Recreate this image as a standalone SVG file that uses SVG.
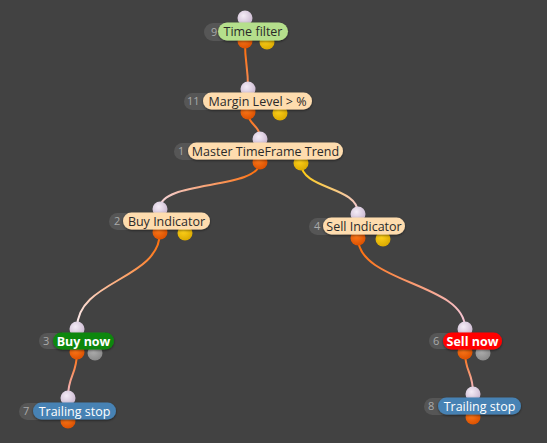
<svg xmlns="http://www.w3.org/2000/svg" width="547" height="443" viewBox="0 0 547 443">
<style>
.num{font-family:"Open Sans","Liberation Sans",sans-serif;font-size:11px;fill:#aaaaaa;}
.lbl{font-family:"Open Sans","Liberation Sans",sans-serif;font-size:12.5px;fill:#2a2a2a;text-anchor:middle;}
.lblw{font-family:"Open Sans","Liberation Sans",sans-serif;font-size:12.5px;fill:#ffffff;text-anchor:middle;}
.lblb{font-family:"Open Sans","Liberation Sans",sans-serif;font-size:12.5px;font-weight:bold;fill:#ffffff;text-anchor:middle;}
.base{fill:#565656;}
.peach{fill:#fedcae;}
.wire{fill:none;stroke-width:2;}
</style>
<defs>
<filter id="sh" x="-20%" y="-50%" width="140%" height="200%"><feDropShadow dx="0" dy="1" stdDeviation="1.2" flood-color="#000" flood-opacity="0.5"/></filter>
<radialGradient id="pin" cx="0.4" cy="0.35" r="0.7"><stop offset="0" stop-color="#f4ecf6"/><stop offset="1" stop-color="#c9b6cf"/></radialGradient>
<radialGradient id="por" cx="0.4" cy="0.35" r="0.7"><stop offset="0" stop-color="#ff7a1a"/><stop offset="1" stop-color="#d94f00"/></radialGradient>
<radialGradient id="pye" cx="0.4" cy="0.35" r="0.7"><stop offset="0" stop-color="#ffd21a"/><stop offset="1" stop-color="#d9a800"/></radialGradient>
<radialGradient id="pgr" cx="0.4" cy="0.35" r="0.7"><stop offset="0" stop-color="#b0b0b0"/><stop offset="1" stop-color="#888888"/></radialGradient>
<linearGradient id="g1" gradientUnits="userSpaceOnUse" x1="260" y1="162" x2="160" y2="208"><stop offset="0" stop-color="#ff6a00"/><stop offset="1" stop-color="#f3d6de"/></linearGradient>
<linearGradient id="g2" gradientUnits="userSpaceOnUse" x1="301" y1="163" x2="358" y2="213"><stop offset="0" stop-color="#ffcc00"/><stop offset="1" stop-color="#f3c8d8"/></linearGradient>
<linearGradient id="g3" gradientUnits="userSpaceOnUse" x1="160" y1="232" x2="77" y2="328"><stop offset="0" stop-color="#ff6a00"/><stop offset="1" stop-color="#fbeef4"/></linearGradient>
<linearGradient id="g4" gradientUnits="userSpaceOnUse" x1="358" y1="238" x2="465" y2="328"><stop offset="0" stop-color="#ff6a00"/><stop offset="1" stop-color="#f5c8dc"/></linearGradient>
<linearGradient id="g5" gradientUnits="userSpaceOnUse" x1="77" y1="352" x2="68" y2="397"><stop offset="0" stop-color="#ff6a00"/><stop offset="1" stop-color="#f0c0d8"/></linearGradient>
<linearGradient id="g6" gradientUnits="userSpaceOnUse" x1="465" y1="352" x2="473" y2="393"><stop offset="0" stop-color="#ff6a00"/><stop offset="1" stop-color="#f0c0d8"/></linearGradient>
<linearGradient id="g7" gradientUnits="userSpaceOnUse" x1="245" y1="42" x2="248" y2="88"><stop offset="0" stop-color="#ff6a00"/><stop offset="1" stop-color="#f59060"/></linearGradient>
<linearGradient id="g8" gradientUnits="userSpaceOnUse" x1="248" y1="112" x2="260" y2="138"><stop offset="0" stop-color="#ff6a00"/><stop offset="1" stop-color="#f59060"/></linearGradient>
</defs>
<rect width="547" height="443" fill="#424242"/>
<g id="connectors">
<path class="wire" stroke="url(#g7)" d="M245,42 C245,65 248,65 248,88"/>
<path class="wire" stroke="url(#g8)" d="M248,112 C248,125 260,125 260,138"/>
<path class="wire" stroke="url(#g1)" d="M260,162 C260,190 160,180 160,208"/>
<path class="wire" stroke="url(#g2)" d="M301,163 C301,190 358,186 358,213"/>
<path class="wire" stroke="url(#g3)" d="M160,232 C160,280 77,280 77,328"/>
<path class="wire" stroke="url(#g4)" d="M358,238 C358,283 465,283 465,328"/>
<path class="wire" stroke="url(#g5)" d="M77,352 C77,375 68,375 68,397"/>
<path class="wire" stroke="url(#g6)" d="M465,352 C465,372 473,372 473,393"/>
</g>
<g id="n9">
<circle cx="245" cy="18" r="7.5" fill="url(#pin)"/>
<circle cx="245" cy="41" r="7.5" fill="url(#por)"/>
<circle cx="267" cy="42" r="7.5" fill="url(#pye)"/>
<rect class="base" x="204" y="23" width="40" height="18" rx="9"/>
<text class="num" x="211" y="36">9</text>
<rect x="218" y="22.5" width="70" height="18" rx="9" fill="#b5df8c" filter="url(#sh)"/>
<text class="lbl" x="253" y="36">Time filter</text>
</g>
<g id="n11">
<circle cx="248" cy="89" r="7.5" fill="url(#pin)"/>
<circle cx="248" cy="112" r="7.5" fill="url(#por)"/>
<circle cx="280" cy="113" r="7.5" fill="url(#pye)"/>
<rect class="base" x="184" y="93" width="40" height="17" rx="8.5"/>
<text class="num" x="187" y="105">11</text>
<rect class="peach" x="203" y="92.5" width="109" height="17" rx="8.5" filter="url(#sh)"/>
<text class="lbl" x="257.5" y="105.5">Margin Level &gt; %</text>
</g>
<g id="n1">
<circle cx="260" cy="139" r="7.5" fill="url(#pin)"/>
<circle cx="260" cy="162" r="7.5" fill="url(#por)"/>
<circle cx="301" cy="163" r="7.5" fill="url(#pye)"/>
<rect class="base" x="174" y="143" width="40" height="17" rx="8.5"/>
<text class="num" x="178" y="155">1</text>
<rect class="peach" x="188" y="142.5" width="155" height="17" rx="8.5" filter="url(#sh)"/>
<text class="lbl" x="265.5" y="155.5">Master TimeFrame Trend</text>
</g>
<g id="n2">
<circle cx="160" cy="209" r="7.5" fill="url(#pin)"/>
<circle cx="160" cy="232" r="7.5" fill="url(#por)"/>
<circle cx="185" cy="233" r="7.5" fill="url(#pye)"/>
<rect class="base" x="109" y="213" width="40" height="17" rx="8.5"/>
<text class="num" x="114" y="225">2</text>
<rect class="peach" x="123" y="212.5" width="87" height="17" rx="8.5" filter="url(#sh)"/>
<text class="lbl" x="166.5" y="225.5">Buy Indicator</text>
</g>
<g id="n4">
<circle cx="358" cy="214" r="7.5" fill="url(#pin)"/>
<circle cx="358" cy="238" r="7.5" fill="url(#por)"/>
<circle cx="383" cy="239" r="7.5" fill="url(#pye)"/>
<rect class="base" x="309" y="218" width="40" height="17" rx="8.5"/>
<text class="num" x="314" y="230">4</text>
<rect class="peach" x="323" y="217.5" width="82" height="17" rx="8.5" filter="url(#sh)"/>
<text class="lbl" x="364" y="230.5">Sell Indicator</text>
</g>
<g id="n3">
<circle cx="77" cy="329" r="7.5" fill="url(#pin)"/>
<circle cx="77" cy="352" r="7.5" fill="url(#por)"/>
<circle cx="95" cy="353" r="7.5" fill="url(#pgr)"/>
<rect class="base" x="39" y="333" width="40" height="16" rx="8"/>
<text class="num" x="43" y="345">3</text>
<rect x="53" y="332.5" width="61" height="17" rx="8.5" fill="#0e870e" filter="url(#sh)"/>
<text class="lblb" x="83.5" y="345.5">Buy now</text>
</g>
<g id="n6">
<circle cx="465" cy="329" r="7.5" fill="url(#pin)"/>
<circle cx="465" cy="352" r="7.5" fill="url(#por)"/>
<circle cx="483" cy="353" r="7.5" fill="url(#pgr)"/>
<rect class="base" x="429" y="333" width="40" height="16" rx="8"/>
<text class="num" x="433" y="345">6</text>
<rect x="443" y="332.5" width="59" height="17" rx="8.5" fill="#ff0000" filter="url(#sh)"/>
<text class="lblb" x="472.5" y="345.5">Sell now</text>
</g>
<g id="n7">
<circle cx="68" cy="398" r="7.5" fill="url(#pin)"/>
<circle cx="68" cy="421" r="7.5" fill="url(#por)"/>
<rect class="base" x="19" y="403" width="40" height="17" rx="8.5"/>
<text class="num" x="23" y="415">7</text>
<rect x="33" y="402.5" width="83" height="17" rx="8.5" fill="#4682b4" filter="url(#sh)"/>
<text class="lblw" x="74.5" y="415.5">Trailing stop</text>
</g>
<g id="n8">
<circle cx="473" cy="394" r="7.5" fill="url(#pin)"/>
<circle cx="473" cy="417" r="7.5" fill="url(#por)"/>
<rect class="base" x="424" y="398" width="40" height="17" rx="8.5"/>
<text class="num" x="428" y="410">8</text>
<rect x="438" y="397.5" width="83" height="17" rx="8.5" fill="#4682b4" filter="url(#sh)"/>
<text class="lblw" x="479.5" y="410.5">Trailing stop</text>
</g>
</svg>
